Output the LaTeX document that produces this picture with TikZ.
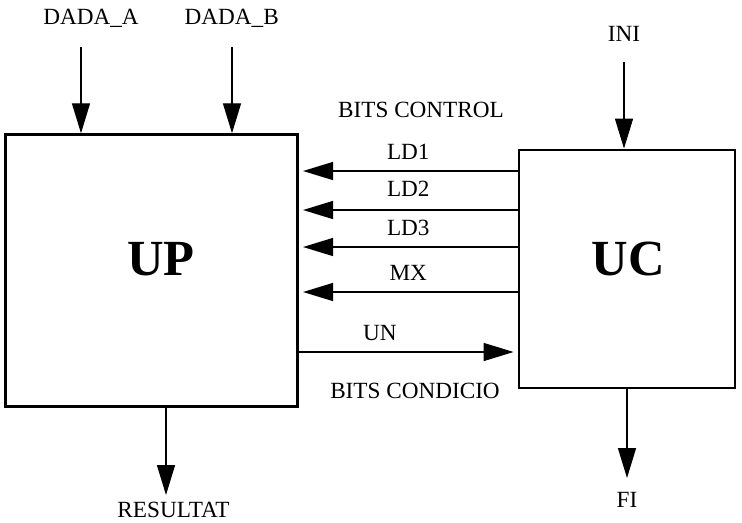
\documentclass[tikz,border=0pt]{standalone}
\usepackage{fontspec}
\setmainfont{Liberation Serif}
\usetikzlibrary{arrows.meta,positioning,calc}
\tikzset{
  >={Triangle[length=7.5mm,width=4.5mm]},
  blk/.style={draw,line width=2pt,fill=white,inner sep=0pt},
  sig/.style={->,line width=1pt},
  hsig/.style={sig,shorten >=1mm},
}
\begin{document}
\begin{tikzpicture}[x=0.025cm,y=-0.025cm,
  lbl/.style={font=\fontsize{16.5}{19}\selectfont,inner sep=0pt,anchor=base},
  big/.style={font=\fontsize{36}{41}\selectfont\bfseries,inner sep=0pt,anchor=base}]
  \useasboundingbox (0,0) rectangle (742,522);
  % blocs
  \node[blk,minimum width=7.3cm,minimum height=6.8cm] (UP) at (151.6,270.7) {};
  \node[blk,minimum width=5.4cm,minimum height=5.95cm] (UC) at (627,269) {};
  \node[big] (upname) at (161,275) {UP};
  \node[big] (ucname) at (628,275) {UC};
  % entrades
  \node[lbl] (dadaA) at (91,24) {DADA\_A};
  \node[lbl] (dadaB) at (231.7,24) {DADA\_B};
  \node[lbl] (ini) at (624,41) {INI};
  \coordinate (inA) at (81,47);
  \coordinate (inB) at (232,47);
  \coordinate (inI) at (624,62);
  \draw[sig] (inA) -- (inA |- UP.north);
  \draw[sig] (inB) -- (inB |- UP.north);
  \draw[sig] (inI) -- (inI |- UC.north);
  % bits de control i condicio
  \node[lbl] (bctl) at (421,117) {BITS CONTROL};
  \node[lbl] (bcnd) at (415,398) {BITS CONDICIO};
  \foreach \y/\t/\d in {171/LD1/3.0,210/LD2/3.5,247/LD3/2.8,292/MX/2.9}
    \draw[hsig] (UC.west |- 0,\y) -- node[lbl,yshift=\d mm] {\t} (UP.east |- 0,\y);
  \draw[hsig] (UP.east |- 0,352) -- node[lbl,yshift=2.9mm,xshift=-7.1mm] {UN} (UC.west |- 0,352);
  % sortides
  \coordinate (outR) at (166,495);
  \coordinate (outF) at (627,478);
  \draw[sig] (outR |- UP.south) -- (outR);
  \draw[sig] (outF |- UC.south) -- (outF);
  \node[lbl] (res) at (173.5,517) {RESULTAT};
  \node[lbl] (fi) at (627,507) {FI};
\end{tikzpicture}
\end{document}
